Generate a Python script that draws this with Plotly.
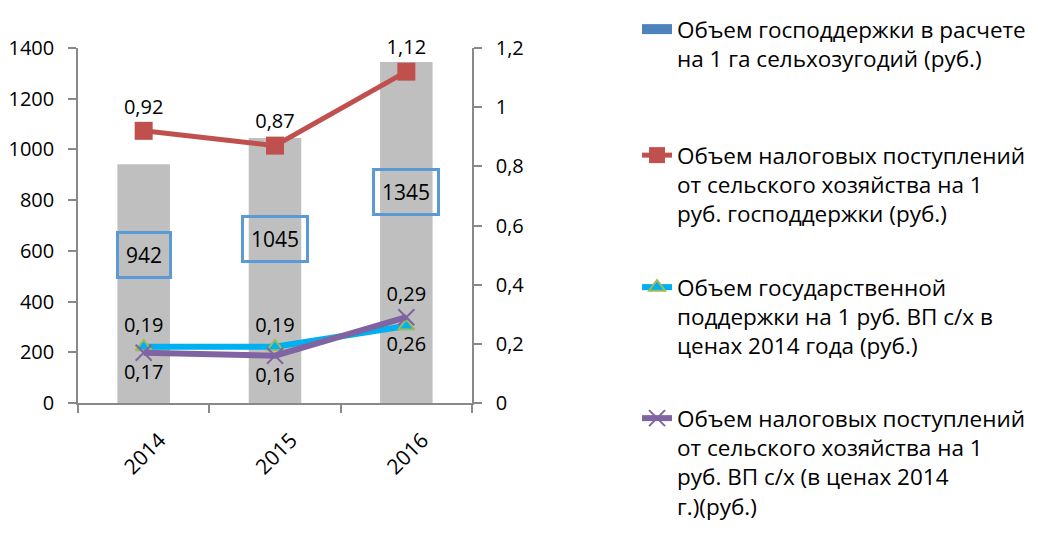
import plotly.graph_objects as go

years = ["2014", "2015", "2016"]
support_per_ha = [942, 1045, 1345]
tax_per_support = [0.92, 0.87, 1.12]
support_per_gp = [0.19, 0.19, 0.26]
tax_per_gp = [0.17, 0.16, 0.29]

names = [
    "Объем господдержки в расчете<br>на 1 га сельхозугодий (руб.)",
    "Объем налоговых поступлений<br>от сельского хозяйства на 1<br>руб. господдержки (руб.)",
    "Объем государственной<br>поддержки на 1 руб. ВП с/х в<br>ценах 2014 года (руб.)",
    "Объем налоговых поступлений<br>от сельского хозяйства на 1<br>руб. ВП с/х (в ценах 2014<br>г.)(руб.)",
]

FONT = "Open Sans"
FS = 20
LFS = 22.5

xpos = list(range(len(years)))


def fmt(v):
    return f"{v:.2f}".replace(".", ",")


fig = go.Figure()

fig.add_trace(go.Bar(
    x=xpos, y=support_per_ha, width=0.4,
    marker=dict(color="#BFBFBF", line=dict(width=0)),
    showlegend=False, hoverinfo="skip",
))
fig.add_trace(go.Scatter(
    x=[None], y=[None], mode="lines", name=names[0],
    line=dict(color="#4F81BD", width=12), legend="legend",
))

fig.add_trace(go.Scatter(
    x=xpos, y=tax_per_support, yaxis="y2", name=names[1], legend="legend2",
    mode="lines+markers+text",
    line=dict(color="#C0504D", width=5),
    marker=dict(symbol="square", size=18, color="#C0504D"),
    text=[fmt(v) for v in tax_per_support],
    textposition="top center",
    textfont=dict(family=FONT, size=FS, color="black"),
    cliponaxis=False,
))
fig.add_trace(go.Scatter(
    x=xpos, y=support_per_gp, yaxis="y2", name=names[2], legend="legend3",
    mode="lines+markers+text",
    line=dict(color="#00B0F0", width=6),
    marker=dict(symbol="triangle-up", size=14, color="#00B0F0",
                line=dict(color="#9BBB59", width=2)),
    text=[fmt(v) for v in support_per_gp],
    textposition=["top center", "top center", "bottom center"],
    textfont=dict(family=FONT, size=FS, color="black"),
    cliponaxis=False,
))
fig.add_trace(go.Scatter(
    x=xpos, y=tax_per_gp, yaxis="y2", name=names[3], legend="legend4",
    mode="lines+markers+text",
    line=dict(color="#8064A2", width=6),
    marker=dict(symbol="x-thin", size=16, color="#8064A2",
                line=dict(color="#8064A2", width=2)),
    text=[fmt(v) for v in tax_per_gp],
    textposition=["bottom center", "bottom center", "top center"],
    textfont=dict(family=FONT, size=FS, color="black"),
    cliponaxis=False,
))

for x, v in zip(xpos, support_per_ha):
    fig.add_annotation(
        x=x, y=v * 0.62, xref="x", yref="y", text=str(v), showarrow=False,
        font=dict(family=FONT, size=21, color="black"),
        bordercolor="#5B9BD5", borderwidth=3, borderpad=7,
    )

axis_col = "#898989"
leg_common = dict(
    xref="container", yref="container", xanchor="left", yanchor="top",
    valign="top", font=dict(family=FONT, size=LFS, color="black"),
    bgcolor="rgba(0,0,0,0)", tracegroupgap=0,
)
leg_x = 0.606
tops = [-4, 126, 258, 389]

# the page body adds an 8px offset; margins compensate for it
fig.update_layout(
    width=1038, height=550,
    margin=dict(l=70, r=574, t=40, b=155, autoexpand=False),
    plot_bgcolor="white", paper_bgcolor="white",
    separators=", ",
    barmode="overlay",
    font=dict(family=FONT, size=FS, color="black"),
    xaxis=dict(
        range=[-0.5, len(years) - 0.5],
        tickvals=xpos, ticktext=years, ticks="",
        minor=dict(tickvals=[i - 0.5 for i in range(len(years) + 1)],
                   ticks="outside", ticklen=8, tickcolor=axis_col,
                   tickwidth=1.5, showgrid=False),
        showline=True, linecolor=axis_col,
        linewidth=1.5, tickangle=-45, showgrid=False, zeroline=False,
        tickfont=dict(family=FONT, size=21, color="black"),
        ticklabelshift=16, ticklabelstandoff=15,
    ),
    yaxis=dict(
        range=[0, 1400], dtick=200, ticks="outside", ticklen=8,
        tickcolor=axis_col, tickwidth=1.5, showline=True, linecolor=axis_col,
        linewidth=1.5, showgrid=False, zeroline=False,
        tickfont=dict(family=FONT, size=FS, color="black"),
        ticklabelstandoff=10,
    ),
    yaxis2=dict(
        range=[0, 1.2], dtick=0.2, overlaying="y", side="right",
        ticks="outside", ticklen=8, tickcolor=axis_col, tickwidth=1.5,
        showline=True, linecolor=axis_col, linewidth=1.5, showgrid=False,
        zeroline=False, tickformat="~g",
        tickfont=dict(family=FONT, size=FS, color="black"),
        ticklabelstandoff=10,
    ),
    legend=dict(x=leg_x, y=1 - tops[0] / 550, **leg_common),
    legend2=dict(x=leg_x, y=1 - tops[1] / 550, **leg_common),
    legend3=dict(x=leg_x, y=1 - tops[2] / 550, **leg_common),
    legend4=dict(x=leg_x, y=1 - tops[3] / 550, **leg_common),
)

fig.write_html("out.html")
